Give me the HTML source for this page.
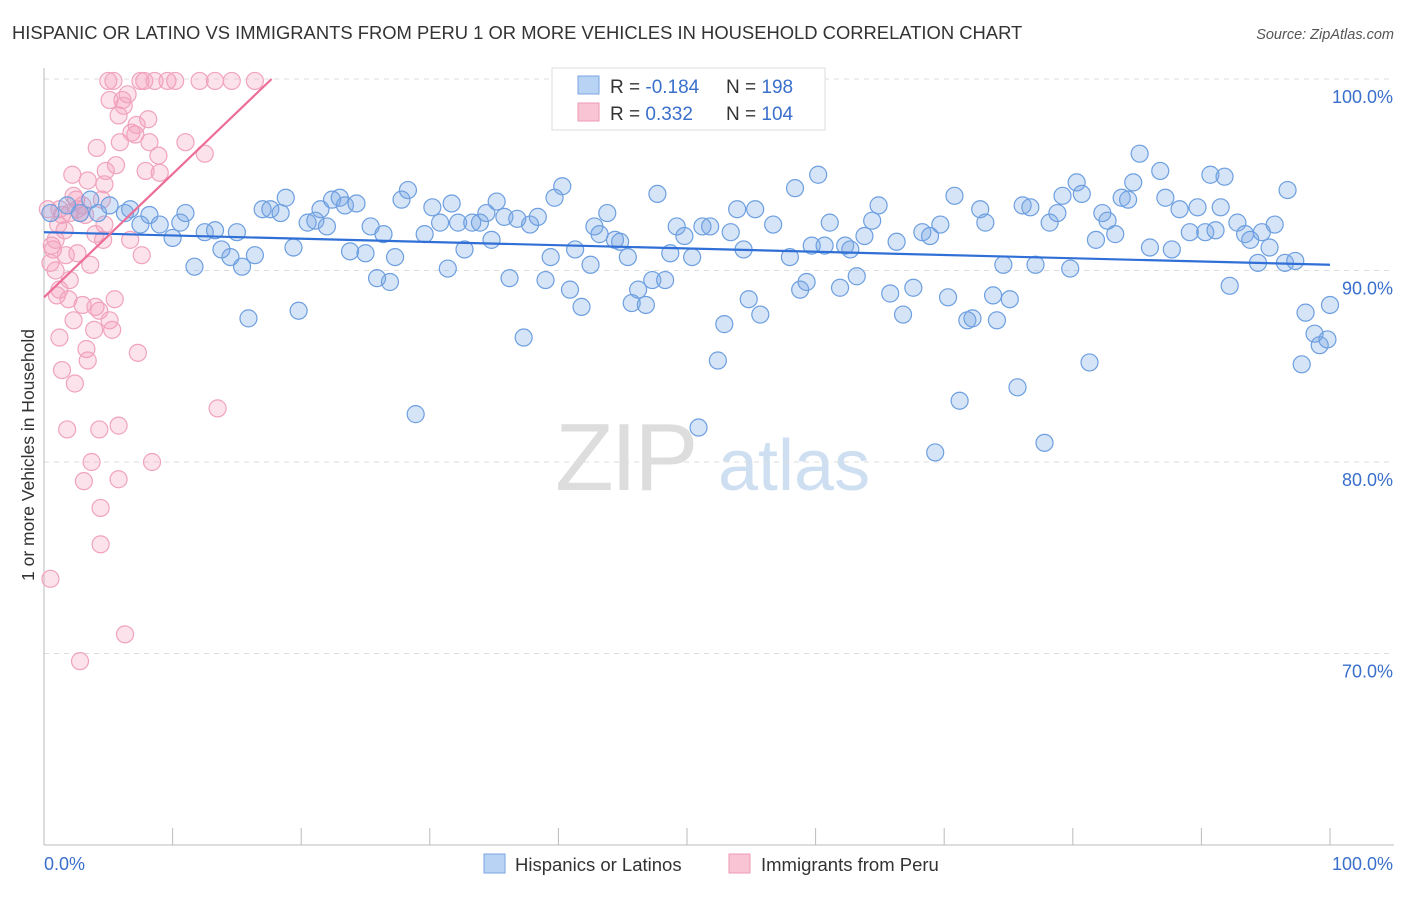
<!DOCTYPE html>
<html><head><meta charset="utf-8"><style>
body{margin:0;background:#fff;font-family:"Liberation Sans",sans-serif;}
svg text{font-family:"Liberation Sans",sans-serif;}
</style></head><body>
<svg id="chart" width="1406" height="892" xmlns="http://www.w3.org/2000/svg">
<text x="12" y="39" font-size="18.4" fill="#333">HISPANIC OR LATINO VS IMMIGRANTS FROM PERU 1 OR MORE VEHICLES IN HOUSEHOLD CORRELATION CHART</text>
<text x="1394" y="39" font-size="14.5" fill="#555" text-anchor="end" font-style="italic">Source: ZipAtlas.com</text>
<g>
<text x="555" y="490" font-size="96" fill="#ddd" font-family="Liberation Serif" letter-spacing="-3">ZIP</text>
<text x="718" y="490" font-size="72" fill="#cfdff2">atlas</text>
</g>
<g id="grid"></g>
<g id="axes"></g>
<g id="pts"></g>
<g id="trends"></g>
<g>
<rect x="552" y="68" width="273" height="62" fill="#fff" stroke="#ddd"/>
<rect x="578" y="76" width="21" height="18" fill="#b9d3f5" stroke="#7aa6e0"/>
<rect x="578" y="103" width="21" height="18" fill="#f9c4d4" stroke="#ee9ab5"/>
<text x="610" y="93" font-size="19" fill="#333">R = <tspan fill="#3a6fcc">-0.184</tspan></text>
<text x="726" y="93" font-size="19" fill="#333">N = <tspan fill="#3a6fcc"> 198</tspan></text>
<text x="610" y="120" font-size="19" fill="#333">R = <tspan fill="#3a6fcc"> 0.332</tspan></text>
<text x="726" y="120" font-size="19" fill="#333">N = <tspan fill="#3a6fcc">104</tspan></text>
</g>
<g>
<rect x="484" y="854" width="21" height="19" fill="#b9d3f5" stroke="#7aa6e0"/>
<text x="515" y="871" font-size="18.5" fill="#333">Hispanics or Latinos</text>
<rect x="729" y="854" width="21" height="19" fill="#f9c4d4" stroke="#ee9ab5"/>
<text x="761" y="871" font-size="18.5" fill="#333">Immigrants from Peru</text>
</g>
<text transform="translate(34,455) rotate(-90)" font-size="17.5" fill="#333" text-anchor="middle">1 or more Vehicles in Household</text>
</svg>
<script>
const blueX=[0.5,1.8,2.8,3.6,4.2,5.1,6.3,6.7,7.5,8.2,9.0,10.0,10.6,11.0,11.7,12.5,13.3,13.8,14.5,15.0,15.4,15.9,16.4,17.0,17.6,18.4,18.8,19.4,19.8,20.5,21.1,21.5,22.0,22.4,23.0,23.4,23.8,24.3,25.0,25.4,25.9,26.4,26.9,27.3,27.8,28.3,28.9,29.6,30.2,30.8,31.4,31.7,32.2,32.7,33.3,33.9,34.4,34.8,35.2,35.8,36.2,36.8,37.3,37.8,38.4,39.0,39.4,39.7,40.3,40.9,41.3,41.8,42.5,42.8,43.2,43.8,44.4,44.8,45.4,45.7,46.2,46.8,47.3,47.7,48.3,48.7,49.2,49.8,50.4,50.9,51.2,51.8,52.4,52.9,53.4,53.9,54.4,54.8,55.3,55.7,56.7,58.0,58.4,58.8,59.3,59.7,60.2,60.7,61.1,61.9,62.3,62.7,63.2,63.8,64.4,64.9,65.8,66.3,66.8,67.6,68.3,68.9,69.3,69.7,70.3,70.8,71.2,71.8,72.2,72.8,73.2,73.8,74.1,74.6,75.1,75.7,76.1,76.7,77.1,77.8,78.2,78.8,79.2,79.8,80.3,80.7,81.3,81.8,82.3,82.7,83.3,83.8,84.3,84.7,85.2,86.0,86.8,87.2,87.7,88.3,89.1,89.7,90.3,90.7,91.1,91.5,91.8,92.2,92.8,93.4,93.8,94.4,94.7,95.3,95.7,96.7,96.5,97.3,97.8,98.1,98.8,99.2,99.8,100];
const blueY=[93.0,93.4,93.0,93.7,93.0,93.4,93.0,93.2,92.4,92.9,92.4,91.7,92.5,93.0,90.2,92.0,92.1,91.1,90.7,92.0,90.2,87.5,90.8,93.2,93.2,93.0,93.8,91.2,87.9,92.5,92.6,93.2,92.3,93.7,93.8,93.4,91.0,93.5,90.9,92.3,89.6,91.9,89.4,90.7,93.7,94.2,82.5,91.9,93.3,92.5,90.1,93.5,92.5,91.1,92.5,92.5,93.0,91.6,93.6,92.8,89.6,92.7,86.5,92.4,92.8,89.5,90.7,93.8,94.4,89.0,91.1,88.1,90.3,92.3,91.9,93.0,91.6,91.5,90.7,88.3,89.0,88.2,89.5,94.0,89.5,90.9,92.3,91.8,90.7,81.8,92.3,92.3,85.3,87.2,92.0,93.2,91.1,88.5,93.2,87.7,92.4,90.7,94.3,89.0,89.4,91.3,95.0,91.3,92.5,89.1,91.3,91.1,89.7,91.8,92.6,93.4,88.8,91.5,87.7,89.1,92.0,91.8,80.5,92.4,88.6,93.9,83.2,87.4,87.5,93.2,92.5,88.7,87.4,90.3,88.5,83.9,93.4,93.3,90.3,81.0,92.5,93.0,93.9,90.1,94.6,94.0,85.2,91.6,93.0,92.6,91.9,93.8,93.7,94.6,96.1,91.2,95.2,93.8,91.1,93.2,92.0,93.3,92.0,95.0,92.1,93.3,94.9,89.2,92.5,91.9,91.6,90.4,92.0,91.2,92.4,94.2,90.4,90.5,85.1,87.8,86.7,86.1,86.4,88.2];
const pinkX=[0.5,0.7,0.9,1.0,1.2,1.2,1.4,1.6,1.8,2.0,2.2,2.3,2.4,2.5,2.6,2.8,3.0,3.1,3.3,3.4,3.6,3.7,3.9,4.0,4.1,4.3,4.4,4.4,4.6,4.7,4.8,5.0,5.1,5.3,5.4,5.6,5.8,5.8,5.9,6.1,6.3,6.5,6.7,6.8,7.1,7.3,7.5,7.6,7.8,8.1,8.2,8.4,8.6,8.9,9.0,9.6,10.2,11.0,12.1,12.5,13.3,13.5,14.6,16.4,2.8,1.2,0.9,0.3,0.5,0.6,1.1,1.4,1.7,1.9,2.0,2.3,2.6,3.0,3.2,3.4,4.0,4.3,4.5,4.7,5.1,5.5,5.8,6.2,7.2,7.9];
const pinkY=[73.9,91.1,91.6,88.7,86.5,93.2,84.8,92.1,81.7,93.0,95.0,87.4,84.1,93.7,90.9,93.0,88.2,79.0,85.9,94.7,90.3,80.0,86.9,88.1,96.4,81.7,77.6,75.7,91.6,92.4,95.2,99.9,98.9,86.9,99.9,95.5,79.1,81.9,96.7,98.9,71.0,99.2,91.6,97.2,97.1,85.7,99.9,90.8,99.9,97.9,96.7,80.0,99.9,96.0,95.1,99.9,99.9,96.7,99.9,96.1,99.9,82.8,99.9,99.9,69.6,89.0,90.0,93.2,90.4,91.3,92.4,92.9,90.8,88.5,89.5,93.9,93.2,93.4,92.9,85.3,91.9,87.9,93.7,94.5,87.4,88.5,98.1,98.6,97.6,95.2];
const yTicks=[100,90,80,70];
const yTickLabels=["100.0%","90.0%","80.0%","70.0%"];
const xTicks=[0,10,20,30,40,50,60,70,80,90,100];
const blueTrend=[[0,92.0],[100,90.3]];
const pinkTrend=[[0,88.6],[17.7,100]];
const NS="http://www.w3.org/2000/svg";
const X=v=>44+v*12.86, Y=v=>79+(100-v)*19.15;
function mk(t,a,p){const e=document.createElementNS(NS,t);for(const k in a)e.setAttribute(k,a[k]);p.appendChild(e);return e;}
const grid=document.getElementById('grid'),axes=document.getElementById('axes');
yTicks.forEach((t,i)=>{
 const l=mk('line',{x1:44,x2:1394,y1:Y(t),y2:Y(t),stroke:'#ddd','stroke-dasharray':'5,5'},grid);
 
 
 const tx=mk('text',{x:1393,y:Y(t)+24,'font-size':18,fill:'#3a6fcc','text-anchor':'end'},axes);
 tx.textContent=yTickLabels[i];
 
 
});
mk('line',{x1:44,x2:44,y1:68,y2:845,stroke:'#bbb'},axes);
mk('line',{x1:44,x2:1394,y1:845,y2:845,stroke:'#bbb'},axes);
xTicks.forEach(t=>{const l=mk('line',{x1:X(t),x2:X(t),y1:828,y2:845,stroke:'#bbb'},axes);
 
 });
const xl0=mk('text',{x:44,y:870,'font-size':18,fill:'#3a6fcc'},axes);xl0.textContent='0.0%';


const xl1=mk('text',{x:1393,y:870,'font-size':18,fill:'#3a6fcc','text-anchor':'end'},axes);xl1.textContent='100.0%';


const pts=document.getElementById('pts');
pinkX.forEach((v,i)=>{const c=mk('circle',{cx:X(v),cy:Y(pinkY[i]),r:8.5,fill:'rgba(244,160,188,0.3)',stroke:'#f0a3bc','stroke-width':1.2},pts);
 
 });
blueX.forEach((v,i)=>{const c=mk('circle',{cx:X(v),cy:Y(blueY[i]),r:8.5,fill:'rgba(120,165,230,0.3)',stroke:'#6d9fe0','stroke-width':1.2},pts);
 
 });
const tr=document.getElementById('trends');
const b=mk('line',{x1:X(blueTrend[0][0]),y1:Y(blueTrend[0][1]),x2:X(blueTrend[1][0]),y2:Y(blueTrend[1][1]),stroke:'#2f6fd6','stroke-width':2.2},tr);


const p=mk('line',{x1:X(pinkTrend[0][0]),y1:Y(pinkTrend[0][1]),x2:X(pinkTrend[1][0]),y2:Y(pinkTrend[1][1]),stroke:'#ec6e97','stroke-width':2.2},tr);


</script>
</body></html>
